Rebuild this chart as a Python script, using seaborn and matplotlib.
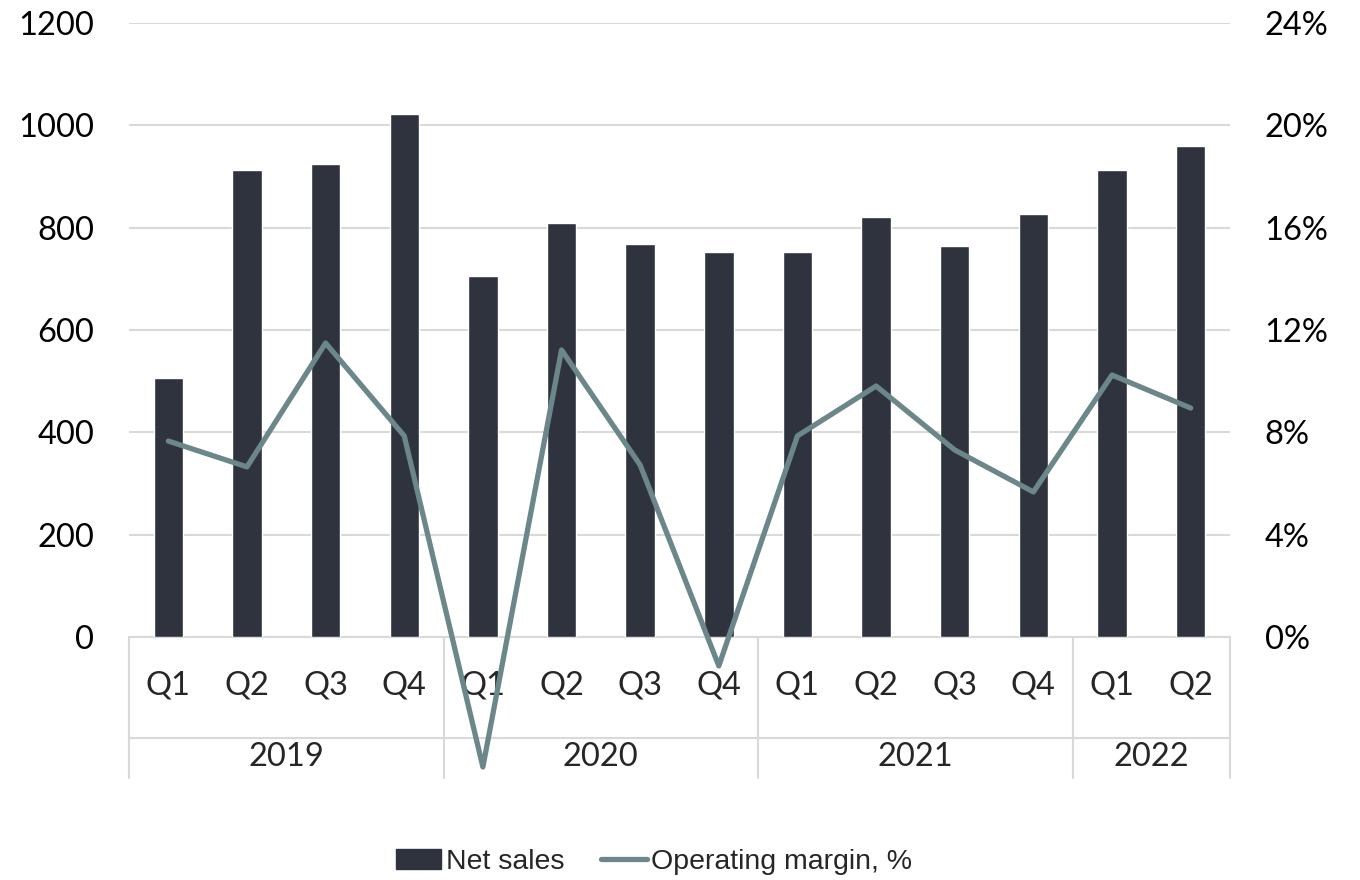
import numpy as np
import pandas as pd
import matplotlib
matplotlib.use("Agg")
import matplotlib.pyplot as plt
import matplotlib.transforms as mtransforms
from matplotlib.patches import Patch
from matplotlib.lines import Line2D
import seaborn as sns

# данные
years = ['2019', '2020', '2021', '2022']
quarters = ['Q1', 'Q2', 'Q3', 'Q4', 'Q1', 'Q2', 'Q3', 'Q4', 'Q1', 'Q2', 'Q3', 'Q4', 'Q1', 'Q2']
year_of_q = ['2019'] * 4 + ['2020'] * 4 + ['2021'] * 4 + ['2022'] * 2
net_sales = [506, 913, 924, 1022, 705, 809, 768, 752, 752, 821, 764, 827, 913, 960]
op_margin = [7.66, 6.65, 11.49, 7.86, -5.08, 11.22, 6.72, -1.13, 7.86, 9.81, 7.31, 5.67, 10.24, 8.95]

df = pd.DataFrame({'pos': np.arange(len(quarters)),
                   'label': [y + ' ' + q for y, q in zip(year_of_q, quarters)],
                   'sales': net_sales, 'margin': op_margin})

bar_color = '#2F333E'
line_color = '#6B878A'
grid_color = '#D9D9D9'
fs = 23.5

sns.set_theme(style='white')
plt.rcParams['font.family'] = ['Lato', 'DejaVu Sans']

fig = plt.figure(figsize=(13.6, 8.8), dpi=100)
ax = fig.add_axes([129 / 1360, 1 - 637 / 880, (1230 - 129) / 1360, 614 / 880])

# столбцы - выручка
sns.barplot(data=df, x='pos', y='sales', color=bar_color, width=0.375,
            saturation=1, ax=ax, zorder=2)
ax.set_xlim(-0.5, len(quarters) - 0.5)
ax.set_ylim(0, 1200)
ax.set_yticks(range(0, 1201, 200))
ax.yaxis.grid(True, color=grid_color, linewidth=1.5, zorder=0)
ax.set_axisbelow(True)
ax.set_xticks([])
ax.set_xlabel('')
ax.set_ylabel('')
for s in ax.spines.values():
    s.set_visible(False)
ax.tick_params(axis='y', length=0, pad=25, labelsize=fs, labelcolor='black')

# линия - операционная маржа (правая ось)
ax2 = ax.twinx()
sns.lineplot(data=df, x='pos', y='margin', color=line_color, linewidth=3.8,
             ax=ax2, clip_on=False, zorder=5)
ax2.set_ylim(0, 24)
ax2.set_xlim(-0.5, len(quarters) - 0.5)
ax2.set_yticks(range(0, 25, 4))
ax2.set_yticklabels([f'{v}%' for v in range(0, 25, 4)])
ax2.set_ylabel('')
ax2.set_xlabel('')
ax2.grid(False)
for s in ax2.spines.values():
    s.set_visible(False)
ax2.tick_params(axis='y', length=0, pad=25, labelsize=fs, labelcolor='black')

# таблица категорий под осью
trans = mtransforms.blended_transform_factory(ax.transData, ax.transAxes)
y_mid = -101 / 614
y_bot = -141 / 614
ax.plot([-0.5, len(quarters) - 0.5], [0, 0], transform=trans, color=grid_color,
        linewidth=1.5, clip_on=False, zorder=1)
ax.plot([-0.5, len(quarters) - 0.5], [y_mid, y_mid], transform=trans, color=grid_color,
        linewidth=1.5, clip_on=False)
bounds = [-0.5, 3.5, 7.5, 11.5, 13.5]
for b in bounds:
    ax.plot([b, b], [0, y_bot], transform=trans, color=grid_color, linewidth=1.5, clip_on=False)
for i, q in enumerate(quarters):
    ax.text(i, -48 / 614, q, transform=trans, ha='center', va='center', fontsize=fs)
for k, y in enumerate(years):
    ax.text((bounds[k] + bounds[k + 1]) / 2, -120 / 614, y, transform=trans,
            ha='center', va='center', fontsize=fs)

handles = [Patch(facecolor=bar_color, edgecolor=bar_color),
           Line2D([0], [0], color=line_color, linewidth=3.8)]
fig.legend(handles, ['Net sales', 'Operating margin, %'], loc='center',
           bbox_to_anchor=(654 / 1360, 1 - 862 / 880), ncol=2, frameon=False,
           prop={'family': ['Liberation Sans Narrow', 'Liberation Sans'], 'size': 20.5},
           handlelength=1.6, handletextpad=0.15, columnspacing=1.3)

fig.savefig('out.png', dpi=100)
